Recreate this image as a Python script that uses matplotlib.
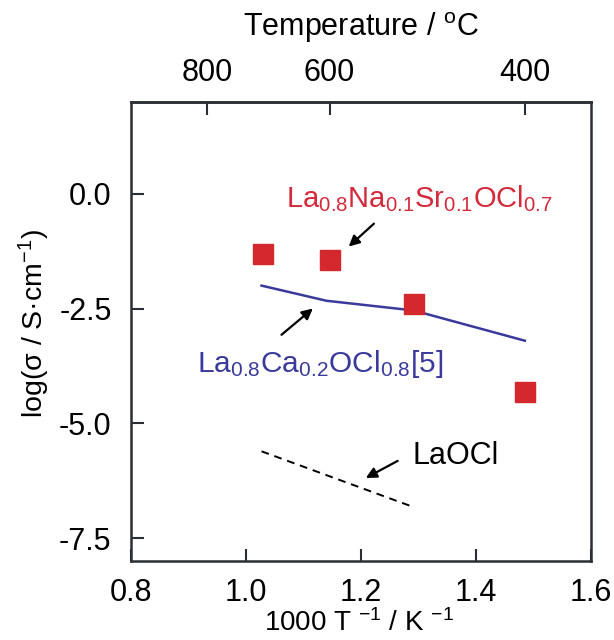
import numpy as np
import matplotlib
matplotlib.use("Agg")
import matplotlib.pyplot as plt

plt.rcParams['font.family'] = ['Liberation Sans', 'DejaVu Sans']
plt.rcParams['mathtext.fontset'] = 'custom'
plt.rcParams['mathtext.rm'] = 'Liberation Sans'
plt.rcParams['mathtext.it'] = 'Liberation Sans:italic'
plt.rcParams['mathtext.bf'] = 'Liberation Sans:bold'
plt.rcParams['mathtext.default'] = 'regular'

# Data
nasr_x = [1.029, 1.146, 1.293, 1.485]
nasr_y = [-1.32, -1.44, -2.41, -4.32]
ca_x = [1.027, 1.140, 1.291, 1.485]
ca_y = [-2.00, -2.33, -2.54, -3.20]
laocl_x = [1.027, 1.286]
laocl_y = [-5.61, -6.80]
temp_ticks = [800, 600, 400]
x_ticks = [0.8, 1.0, 1.2, 1.4, 1.6]
y_ticks = [0.0, -2.5, -5.0, -7.5]

fig = plt.figure(figsize=(6.14, 6.4), dpi=100)
ax = fig.add_axes([0.2134, 0.1234, 0.7491, 0.7172])

frame_c = '#2b2f33'
red_sq = '#d3282e'
red_txt = '#d42a3c'
blue = '#3a3a9c'
fs = 22

ax.plot(ca_x, ca_y, color=blue, lw=1.8, zorder=2)
ax.plot(laocl_x, laocl_y, color='black', lw=1.4, ls=(0, (4, 3)), zorder=2)
ax.plot(nasr_x, nasr_y, ls='none', marker='s', ms=14.5, color=red_sq, zorder=3)

ax.set_xlim(0.8, 1.6)
ax.set_ylim(-8.0, 2.0)
ax.set_xticks(x_ticks)
ax.set_xticklabels([f"{v:.1f}" for v in x_ticks])
ax.set_yticks(y_ticks)
ax.set_yticklabels([f"{v:.1f}" for v in y_ticks])
ax.tick_params(direction='in', length=9, width=1.5, labelsize=fs, colors=frame_c,
               labelcolor='black')
ax.tick_params(axis='x', pad=12)
ax.tick_params(axis='y', pad=14)
for s in ax.spines.values():
    s.set_linewidth(1.8)
    s.set_color(frame_c)

ax.set_xlabel("1000 T $^{-1}$ / K $^{-1}$", fontsize=20)
ax.xaxis.set_label_coords(0.495, -0.104)
ax.set_ylabel("log(σ / S·cm$^{-1}$)", fontsize=20.5)
ax.yaxis.set_label_coords(-0.172, 0.518)

def c2inv(t):
    return 1000.0 / (np.asarray(t, dtype=float) + 273.15)

def inv2c(x):
    x = np.asarray(x, dtype=float)
    with np.errstate(divide='ignore'):
        return 1000.0 / x - 273.15

sec = ax.secondary_xaxis('top', functions=(inv2c, c2inv))
sec.set_xticks(temp_ticks)
sec.set_xticklabels([str(t) for t in temp_ticks])
sec.tick_params(direction='in', length=9, width=1.5, labelsize=fs, colors=frame_c,
                labelcolor='black', pad=10)
sec.spines['top'].set_linewidth(1.8)
sec.spines['top'].set_color(frame_c)
sec.set_xlabel("Temperature / $^{o}$C", fontsize=fs, labelpad=16)

# Annotations
ax.text(1.069, -0.30, "La$_{0.8}$Na$_{0.1}$Sr$_{0.1}$OCl$_{0.7}$", color=red_txt,
        fontsize=21, ha='left', va='baseline')
ax.annotate("", xy=(1.175, -1.19), xytext=(1.226, -0.61),
            arrowprops=dict(arrowstyle='-|>', color='black', lw=1.6, mutation_scale=16))

ax.text(0.915, -3.88, "La$_{0.8}$Ca$_{0.2}$OCl$_{0.8}$[5]", color=blue,
        fontsize=21.5, ha='left', va='baseline')
ax.annotate("", xy=(1.120, -2.46), xytext=(1.058, -3.11),
            arrowprops=dict(arrowstyle='-|>', color='black', lw=1.6, mutation_scale=16))

ax.text(1.289, -5.88, "LaOCl", color='black', fontsize=22, ha='left', va='baseline')
ax.annotate("", xy=(1.204, -6.22), xytext=(1.268, -5.79),
            arrowprops=dict(arrowstyle='-|>', color='black', lw=1.6, mutation_scale=16))

fig.savefig("out.png", dpi=100)
